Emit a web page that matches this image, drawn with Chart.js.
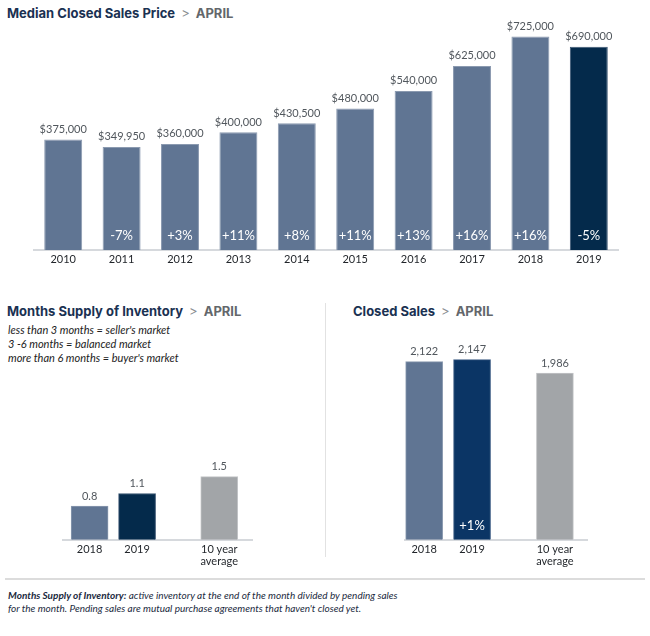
<!DOCTYPE html>
<html>
<head>
<meta charset="utf-8">
<script src="https://cdn.jsdelivr.net/npm/chart.js@4/dist/chart.umd.min.js"></script>
<style>
  html, body { margin:0; padding:0; background:#fff; }
  body { width:650px; height:636px; position:relative; overflow:hidden; font-family: Lato, "Open Sans", sans-serif; }
  .abs { position:absolute; }
  .title { font-family: Inter, Lato, sans-serif; font-weight:700; font-size:13px; color:#1a3152; white-space:nowrap; line-height:16px; }
  .title .sep { color:#8a8e92; font-weight:400; margin:0 6px 0 6px; }
  .title .mo { color:#63676b; }
  .note { font-style:italic; font-size:11px; color:#222; line-height:14px; white-space:nowrap; }
  .foot { font-style:italic; font-size:10px; color:#1b2a40; line-height:13px; white-space:nowrap; }
  canvas { position:absolute; }
</style>
</head>
<body>
<div class="abs title" style="left:7px; top:5px;">Median Closed Sales Price<span class="sep">&gt;</span><span class="mo">APRIL</span></div>
<div class="abs title" style="left:7px; top:303px;">Months Supply of Inventory<span class="sep">&gt;</span><span class="mo">APRIL</span></div>
<div class="abs title" style="left:353px; top:303px;">Closed Sales<span class="sep">&gt;</span><span class="mo">APRIL</span></div>
<div class="abs note" style="left:8px; top:323px;">less than 3 months = seller's market<br>3 -6 months = balanced market<br>more than 6 months = buyer's market</div>
<div class="abs" style="left:325px; top:303px; width:1px; height:254px; background:#e2e2e2;"></div>
<div class="abs" style="left:5px; top:578px; width:640px; height:2px; background:#dcdcdc;"></div>
<div class="abs foot" style="left:8px; top:589px;"><b>Months Supply of Inventory:</b> active inventory at the end of the month divided by pending sales<br>for the month. Pending sales are mutual purchase agreements that haven't closed yet.</div>

<canvas id="c1" style="left:0; top:0;" width="650" height="272"></canvas>
<canvas id="c2" style="left:0; top:340px;" width="325" height="240"></canvas>
<canvas id="c3" style="left:325px; top:340px;" width="325" height="240"></canvas>

<script>
// ---- data ----
const years = ['2010','2011','2012','2013','2014','2015','2016','2017','2018','2019'];
const medianPrice = [375000, 349950, 360000, 400000, 430500, 480000, 540000, 625000, 725000, 690000];
const priceChange = [null, -7, 3, 11, 8, 11, 13, 16, 16, -5];

const compareLabels = ['2018', '2019', ['10 year', 'average']];
const monthsSupply = [0.8, 1.1, 1.5];
const monthsSupplyChange = [null, null, null];
const closedSales = [2122, 2147, 1986];
const closedSalesChange = [null, 1, null];

// ---- layout (not data) ----
const slotPos = [0, 1, 2.73];

const FONT = 'Lato, "Open Sans", sans-serif';
const C_MAIN = '#607593', C_DARK = '#042a4b', C_BLUE = '#0b3565', C_GRAY = '#a2a5a8';
const C_MAIN_B = '#8b9ab0', C_DARK_B = '#3a5572', C_BLUE_B = '#3d5d85', C_GRAY_B = '#c3c5c7';

const fmtSign = v => (v > 0 ? '+' : '') + v + '%';

function labelPlugin(valueFmt, changes) {
  return {
    id: 'lbl',
    afterDatasetsDraw(chart) {
      const ctx = chart.ctx;
      const meta = chart.getDatasetMeta(0);
      const ds = chart.data.datasets[0];
      ctx.save();
      ctx.textAlign = 'center';
      ctx.textBaseline = 'middle';
      meta.data.forEach((el, i) => {
        const raw = ds.data[i];
        const v = (raw && typeof raw === 'object') ? raw.y : raw;
        ctx.font = '11px ' + FONT;
        ctx.fillStyle = '#51575d';
        ctx.fillText(valueFmt(v), el.x, el.y - 10);
        const ch = changes[i];
        if (ch !== null && ch !== undefined) {
          ctx.font = '13px ' + FONT;
          ctx.fillStyle = '#ffffff';
          ctx.fillText(fmtSign(ch), el.x, el.base - 14);
        }
      });
      ctx.restore();
    }
  };
}

const xTickFont = { family: FONT, size: 11, lineHeight: 1.1 };

// ---- Chart 1: Median closed sales price ----
new Chart(document.getElementById('c1'), {
  type: 'bar',
  data: {
    labels: years,
    datasets: [{
      data: medianPrice,
      backgroundColor: years.map((y, i) => i === years.length - 1 ? C_DARK : C_MAIN),
      borderColor: years.map((y, i) => i === years.length - 1 ? C_DARK_B : C_MAIN_B),
      borderWidth: 1,
      borderSkipped: 'bottom',
      barPercentage: 0.65,
      categoryPercentage: 1
    }]
  },
  options: {
    responsive: false, animation: false,
    layout: { padding: { left: 34, right: 32, top: 20, bottom: 2 } },
    plugins: { legend: { display: false }, tooltip: { enabled: false } },
    scales: {
      x: {
        grid: { display: false, drawTicks: false },
        border: { display: true, color: '#d6d9dd', width: 2 },
        ticks: { color: '#1f2328', font: xTickFont, padding: 4, maxRotation: 0, autoSkip: false }
      },
      y: { display: false, min: 0, max: 781000 }
    }
  },
  plugins: [labelPlugin(v => '$' + v.toLocaleString('en-US'), priceChange)]
});

function compareChart(id, values, changes, colors, borders, xmin, xmax, ymax, pad, fmt) {
  return new Chart(document.getElementById(id), {
    type: 'bar',
    data: {
      datasets: [{
        data: values.map((v, i) => ({ x: slotPos[i], y: v })),
        backgroundColor: colors,
        borderColor: borders,
        borderWidth: 1,
        borderSkipped: 'bottom',
        barThickness: 37
      }]
    },
    options: {
      responsive: false, animation: false,
      layout: { padding: pad },
      plugins: { legend: { display: false }, tooltip: { enabled: false } },
      scales: {
        x: {
          type: 'linear', min: xmin, max: xmax, offset: false,
          grid: { display: false, drawTicks: false },
          border: { display: true, color: '#d6d9dd', width: 2 },
          afterBuildTicks: s => { s.ticks = slotPos.map(p => ({ value: p })); },
          ticks: {
            color: '#1f2328', font: xTickFont, padding: 4, maxRotation: 0, autoSkip: false,
            callback: (v, i) => compareLabels[i]
          }
        },
        y: { display: false, min: 0, max: ymax }
      }
    },
    plugins: [labelPlugin(fmt, changes)]
  });
}

compareChart('c2', monthsSupply, monthsSupplyChange,
  [C_MAIN, C_DARK, C_GRAY], [C_MAIN_B, C_DARK_B, C_GRAY_B],
  -0.56, 3.42, 4.51, { left: 63, right: 73, top: 10, bottom: 8 }, v => v.toFixed(1));

compareChart('c3', closedSales, closedSalesChange,
  [C_MAIN, C_BLUE, C_GRAY], [C_MAIN_B, C_BLUE_B, C_GRAY_B],
  -0.4, 3.4, 2261, { left: 80, right: 63, top: 10, bottom: 8 }, v => v.toLocaleString('en-US'));
</script>
</body>
</html>
